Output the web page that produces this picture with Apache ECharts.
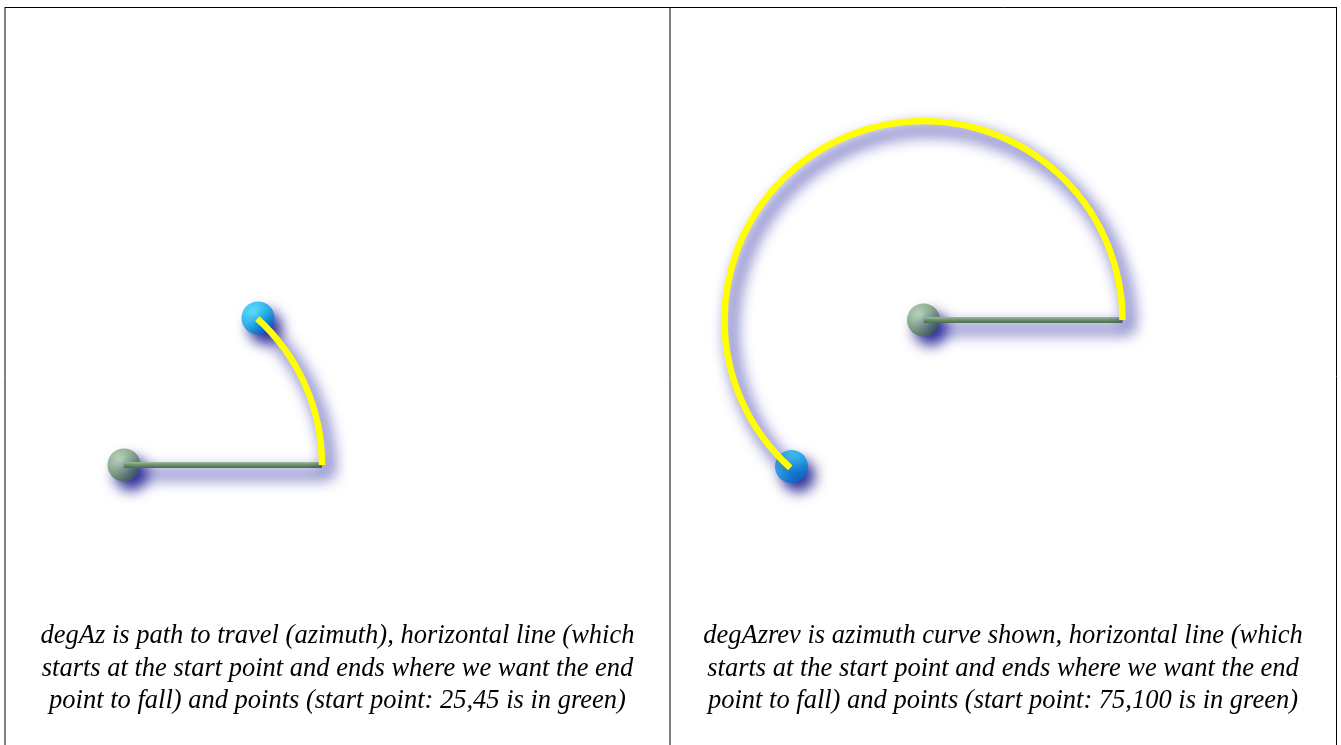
<!DOCTYPE html>
<html>
<head>
<meta charset="utf-8">
<script src="https://cdn.jsdelivr.net/npm/echarts@6/dist/echarts.min.js"></script>
<style>
html,body{margin:0;padding:0;background:#fff;}
#chart{width:1341px;height:745px;}
</style>
</head>
<body>
<div id="chart"></div>
<script>
// ---- data ----
var panelNames = ['degAz', 'degAzrev'];
// start points (green)
var startPoints = [[25, 45], [75, 100]];
// radius of the horizontal line / arc (data units)
var radii = [19.8, 19.9];
// end points of the azimuth curve (blue)
var endPoints = [[38.4, 59.7], [61.8, 85.35]];
// captions
var captions = [
  'degAz is path to travel (azimuth), horizontal line (which\nstarts at the start point and ends where we want the end\npoint to fall) and points (start point: 25,45 is in green)',
  'degAzrev is azimuth curve shown, horizontal line (which\nstarts at the start point and ends where we want the end\npoint to fall) and points (start point: 75,100 is in green)'
];

// ---- build chart ----
var chart = echarts.init(document.getElementById('chart'), null, {renderer: 'canvas'});

var shadow = {shadowBlur: 16, shadowColor: 'rgba(10,10,150,1)', shadowOffsetX: 7, shadowOffsetY: 9};
var ballShadow = {shadowBlur: 14, shadowColor: 'rgba(0,0,130,1)', shadowOffsetX: 7, shadowOffsetY: 9};

var greenBall = {type: 'radial', x: 0.38, y: 0.35, r: 0.75, colorStops: [
  {offset: 0, color: '#b4d8b4'}, {offset: 0.45, color: '#84a884'}, {offset: 1, color: '#3e5e3e'}]};
var blueBall = {type: 'radial', x: 0.38, y: 0.35, r: 0.75, colorStops: [
  {offset: 0, color: '#40e4ff'}, {offset: 0.5, color: '#10b4f0'}, {offset: 1, color: '#0068c8'}]};
var greenLine = {type: 'linear', x: 0, y: 0, x2: 0, y2: 1, colorStops: [
  {offset: 0, color: '#9cbc9c'}, {offset: 0.5, color: '#6e8e6e'}, {offset: 1, color: '#4a6a4a'}]};

var grids = [
  {left: 5, top: 7, width: 665, height: 600},
  {left: 670, top: 7, width: 666, height: 600}
];
var xRanges = [[13.1, 79.6], [49.65, 116.25]];
var yRanges = [[30.8, 90.8], [71.3, 131.3]];

var xAxes = [], yAxes = [], series = [];
for (var i = 0; i < 2; i++) {
  xAxes.push({type: 'value', gridIndex: i, min: xRanges[i][0], max: xRanges[i][1], show: false});
  yAxes.push({type: 'value', gridIndex: i, min: yRanges[i][0], max: yRanges[i][1], show: false});
  var s = startPoints[i], R = radii[i], e = endPoints[i];
  // balls
  series.push({
    type: 'scatter', name: panelNames[i] + ' start', xAxisIndex: i, yAxisIndex: i, z: 1,
    symbol: 'circle', symbolSize: 33, silent: true,
    itemStyle: Object.assign({color: greenBall}, ballShadow),
    data: [s]
  });
  series.push({
    type: 'scatter', name: panelNames[i] + ' end', xAxisIndex: i, yAxisIndex: i, z: 1,
    symbol: 'circle', symbolSize: 33, silent: true,
    itemStyle: Object.assign({color: blueBall}, ballShadow),
    data: [e]
  });
  // horizontal line
  series.push({
    type: 'line', name: panelNames[i] + ' line', xAxisIndex: i, yAxisIndex: i, z: 2,
    symbol: 'none', silent: true,
    lineStyle: Object.assign({color: greenLine, width: 6, cap: 'butt'}, shadow),
    data: [s, [s[0] + R, s[1]]]
  });
  // azimuth arc
  series.push({
    type: 'custom', name: panelNames[i] + ' arc', xAxisIndex: i, yAxisIndex: i, z: 3,
    silent: true,
    data: [[s[0], s[1], R, e[0], e[1]]],
    renderItem: function (params, api) {
      var c = api.coord([api.value(0), api.value(1)]);
      var rEnd = api.coord([api.value(0) + api.value(2), api.value(1)]);
      var b = api.coord([api.value(3), api.value(4)]);
      var r = rEnd[0] - c[0];
      var ang = Math.atan2(b[1] - c[1], b[0] - c[0]);
      return {
        type: 'arc',
        shape: {cx: c[0], cy: c[1], r: r, startAngle: 0, endAngle: ang, clockwise: false},
        style: Object.assign({fill: null, stroke: '#ffff00', lineWidth: 6.5, lineCap: 'butt'}, shadow)
      };
    }
  });
}

var graphics = [
  {type: 'line', shape: {x1: 5, y1: 7.5, x2: 1336.5, y2: 7.5}, style: {stroke: '#000', lineWidth: 1}},
  {type: 'line', shape: {x1: 5, y1: 7, x2: 5, y2: 760}, style: {stroke: '#000', lineWidth: 1}},
  {type: 'line', shape: {x1: 670, y1: 7, x2: 670, y2: 760}, style: {stroke: '#000', lineWidth: 1}},
  {type: 'line', shape: {x1: 1336.5, y1: 7, x2: 1336.5, y2: 760}, style: {stroke: '#000', lineWidth: 1}}
];
var capX = [337.5, 1003];
for (var k = 0; k < 2; k++) {
  graphics.push({
    type: 'text', x: capX[k], y: 620, silent: true,
    style: {
      text: captions[k], fill: '#000', align: 'center', verticalAlign: 'top',
      font: 'italic 26.5px "Liberation Serif", "DejaVu Serif", serif', lineHeight: 32.5
    }
  });
}

chart.setOption({
  animation: false,
  backgroundColor: '#fff',
  grid: grids,
  xAxis: xAxes,
  yAxis: yAxes,
  series: series,
  graphic: graphics
});
</script>
</body>
</html>
